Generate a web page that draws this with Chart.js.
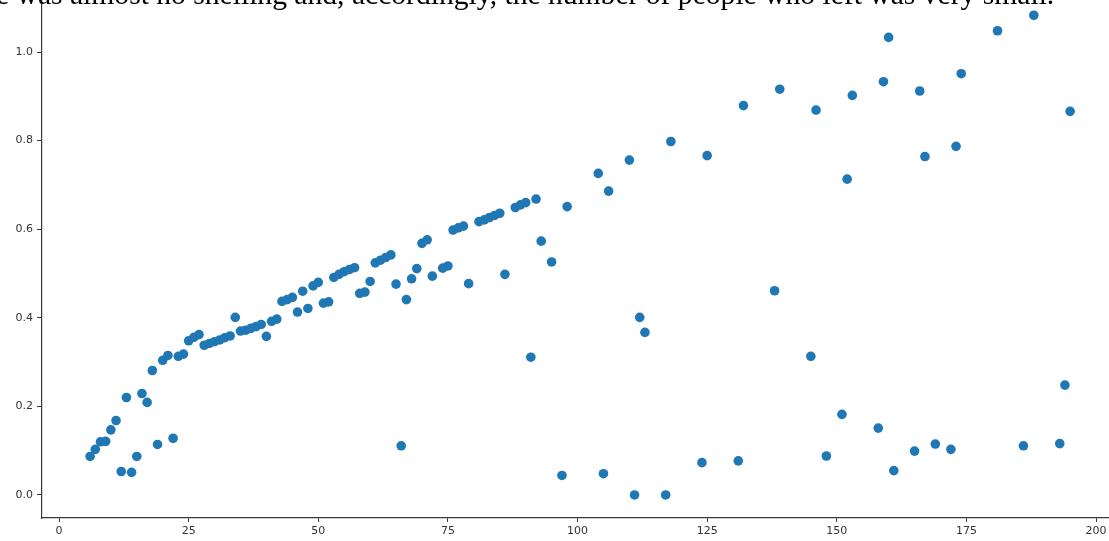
<!DOCTYPE html>
<html>
<head>
<meta charset="utf-8">
<script src="https://cdn.jsdelivr.net/npm/chart.js@4.4.1/dist/chart.umd.min.js"></script>
<style>
  html, body { margin: 0; padding: 0; background: #fff; overflow: hidden; }
  #wrap { position: relative; width: 1109px; height: 541px; }
  #c { position: absolute; left: 0; top: 0; }
  #caption {
    position: absolute; left: -4px; top: -20px; white-space: nowrap;
    font-family: "Liberation Serif", "DejaVu Serif", serif; font-size: 29.6px; line-height: 29.6px;
    color: #000; z-index: 2;
  }
</style>
</head>
<body>
<div id="wrap">
  <div id="caption">e was almost no shelling and, accordingly, the number of people who left was very small.</div>
  <canvas id="c" width="1109" height="541"></canvas>
</div>
<script>
// ---- data ----
const xValues = [6,7,8,9,10,11,12,13,14,15,16,17,18,19,20,21,22,23,24,25,26,27,28,29,30,31,32,33,34,35,36,37,38,39,40,41,42,43,44,45,46,47,48,49,50,51,52,53,54,55,56,57,58,59,60,61,62,63,64,65,66,67,68,69,70,71,72,74,75,76,77,78,79,81,82,83,84,85,86,88,89,90,91,92,93,95,97,98,104,105,106,110,111,112,113,117,118,124,125,131,132,138,139,145,146,148,151,152,153,158,159,160,161,165,166,167,169,172,173,174,181,186,188,193,194,195];
const yValues = [0.087,0.103,0.120,0.121,0.147,0.168,0.053,0.220,0.051,0.087,0.229,0.209,0.281,0.114,0.304,0.315,0.128,0.313,0.318,0.348,0.356,0.362,0.338,0.342,0.346,0.350,0.355,0.359,0.401,0.370,0.372,0.376,0.380,0.385,0.358,0.392,0.397,0.437,0.441,0.446,0.413,0.460,0.421,0.472,0.480,0.433,0.436,0.491,0.498,0.504,0.509,0.513,0.455,0.458,0.482,0.524,0.530,0.536,0.542,0.476,0.111,0.441,0.488,0.511,0.568,0.576,0.494,0.512,0.517,0.598,0.603,0.607,0.477,0.617,0.621,0.626,0.631,0.636,0.498,0.649,0.655,0.660,0.311,0.668,0.573,0.526,0.044,0.651,0.726,0.048,0.686,0.756,0.000,0.401,0.367,0.000,0.798,0.073,0.766,0.077,0.879,0.461,0.916,0.313,0.869,0.088,0.182,0.713,0.902,0.151,0.933,1.033,0.055,0.099,0.912,0.764,0.115,0.103,0.787,0.951,1.048,0.111,1.083,0.116,0.248,0.866];
const xTicks = [0,25,50,75,100,125,150,175,200];
const yTicks = [0.0,0.2,0.4,0.6,0.8,1.0];

const points = xValues.map((x, i) => ({ x: x, y: yValues[i] }));

const axisColor = '#3a3a3a';
const tickFont = { family: 'DejaVu Sans', size: 11 };

new Chart(document.getElementById('c'), {
  type: 'scatter',
  data: {
    datasets: [{
      data: points,
      backgroundColor: '#1f77b4',
      borderWidth: 0,
      pointRadius: 4.8,
      pointHoverRadius: 4.8
    }]
  },
  options: {
    responsive: false,
    animation: false,
    devicePixelRatio: 1,
    layout: { padding: 0, autoPadding: false },
    plugins: { legend: { display: false }, tooltip: { enabled: false } },
    scales: {
      x: {
        type: 'linear',
        min: -3.28,
        max: 202.5,
        afterBuildTicks: s => { s.ticks = xTicks.map(v => ({ value: v })); },
        afterFit: s => { s.height = 23; s.paddingLeft = 0; s.paddingRight = 0; },
        grid: { drawOnChartArea: false, drawTicks: true, tickLength: 4, color: axisColor, lineWidth: 1 },
        border: { display: true, color: axisColor, width: 1.2 },
        ticks: { color: '#333', font: tickFont, padding: 3, maxRotation: 0, autoSkip: false, callback: v => String(v) }
      },
      y: {
        type: 'linear',
        min: -0.052,
        max: 1.1174,
        afterBuildTicks: s => { s.ticks = yTicks.map(v => ({ value: v })); },
        afterFit: s => { s.width = 42; s.paddingTop = 0; s.paddingBottom = 0; },
        grid: { drawOnChartArea: false, drawTicks: true, tickLength: 5, color: axisColor, lineWidth: 1 },
        border: { display: true, color: axisColor, width: 1.2 },
        ticks: { color: '#333', font: tickFont, padding: 4, autoSkip: false, callback: v => v.toFixed(1) }
      }
    }
  }
});
</script>
</body>
</html>
